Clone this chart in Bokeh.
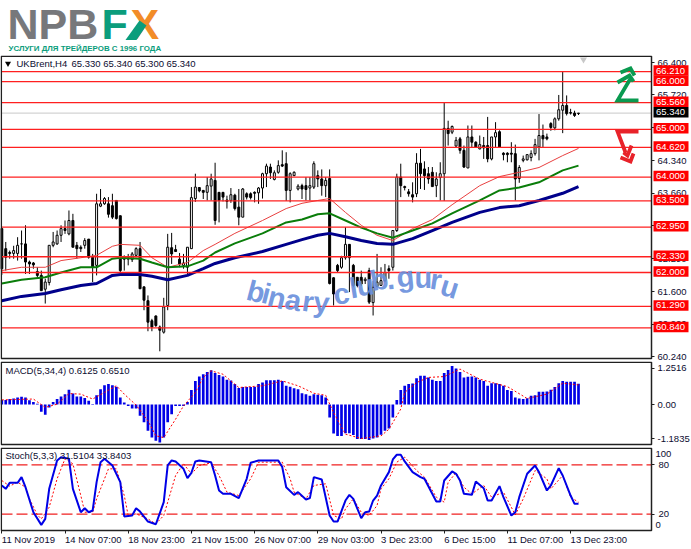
from bokeh.plotting import figure
from bokeh.layouts import column
from bokeh.models import Range1d, LinearAxis, FixedTicker, NumeralTickFormatter
from bokeh.core.properties import value
from bokeh.embed import file_html
from bokeh.resources import INLINE

# ---------- data ----------
SYMBOL = "UKBrent,H4"
QUOTE = "65.330 65.340 65.300 65.340"
OPEN = [62.92,62.50,62.42,62.40,62.40,62.60,62.60,62.22,62.20,62.02,61.94,61.65,61.79,62.57,62.60,62.78,62.92,62.81,63.09,62.57,
        62.53,62.57,62.70,62.32,62.15,63.39,63.44,63.44,63.40,63.51,63.19,62.32,62.28,62.27,62.36,62.50,61.70,61.41,60.99,61.09,
        60.86,60.75,61.31,62.52,62.48,62.28,62.15,62.11,62.50,63.55,63.78,63.72,63.68,63.81,63.93,63.68,63.68,63.52,63.51,63.62,
        63.37,63.16,63.65,63.65,63.68,63.67,63.77,64.07,64.21,63.95,64.10,64.26,64.28,63.72,64.03,63.75,63.82,63.82,63.77,63.79,
        64.03,63.96,63.82,63.97,61.89,62.15,62.11,62.31,62.59,62.15,61.90,61.90,61.83,62.04,61.37,61.71,61.73,61.83,62.08,62.11,
        62.88,64.00,63.80,63.69,63.63,63.65,64.29,64.17,64.07,64.10,63.82,63.99,64.07,65.02,64.94,64.65,64.80,64.56,64.19,64.84,
        64.73,64.59,64.66,64.66,64.38,64.84,64.95,64.50,64.50,64.50,64.49,63.97,64.35,64.36,64.41,64.49,64.63,64.87,64.84,65.12,
        65.03,65.22,65.40,65.50,65.35,65.34,65.33]
HIGH = [62.92,62.64,62.46,62.56,62.74,62.88,62.99,62.25,62.22,62.11,62.04,61.87,62.57,62.85,62.88,62.99,63.09,63.30,63.23,62.64,
        62.57,62.72,62.70,62.39,63.65,63.75,63.58,63.58,63.65,63.51,63.19,62.36,62.39,62.43,62.53,62.64,61.70,61.52,61.03,61.10,
        60.89,61.47,62.81,62.83,62.58,62.41,62.39,62.53,63.79,64.07,63.79,63.73,64.00,64.07,64.30,63.68,63.68,63.61,63.77,63.65,
        63.75,63.77,63.68,63.68,63.70,63.79,64.09,64.28,64.28,64.14,64.35,64.56,64.52,64.10,64.12,63.85,63.86,64.00,64.00,64.33,
        64.14,64.16,64.00,64.16,61.90,62.18,62.35,62.95,62.59,62.18,61.90,62.04,61.90,62.10,61.83,62.39,62.11,62.18,62.15,62.88,
        64.07,64.28,63.82,63.75,63.89,64.50,64.59,64.33,64.21,64.21,64.10,64.31,65.56,65.18,65.08,64.84,64.84,64.66,65.08,65.08,
        64.75,64.87,64.84,65.26,64.84,65.15,64.98,64.52,64.52,64.73,64.68,64.25,64.45,64.48,64.56,64.80,65.32,65.10,64.91,65.15,
        65.25,65.72,66.21,65.71,65.43,65.39,65.34]
LOW = [61.95,62.04,62.29,62.29,62.25,62.29,61.97,61.97,62.08,61.90,61.62,61.35,61.73,62.53,62.58,62.64,62.81,62.78,62.53,62.29,
       62.43,62.50,62.29,61.80,61.94,63.37,63.42,63.15,63.12,63.11,62.01,62.04,62.15,62.22,62.32,61.66,61.21,60.77,60.77,60.86,
       60.35,60.72,61.21,62.18,62.43,62.11,62.08,61.94,62.50,63.48,63.68,63.54,63.51,63.51,63.00,63.05,63.49,63.34,63.46,63.30,
       62.99,63.16,63.53,63.53,63.47,63.44,63.55,63.79,63.96,63.93,64.07,64.21,63.50,63.47,64.02,63.72,63.54,63.51,63.51,63.75,
       63.79,63.61,63.58,61.75,61.31,62.00,62.08,62.27,61.59,61.69,61.69,61.72,61.76,61.34,61.10,61.69,61.73,61.80,61.87,62.04,
       62.85,63.58,63.72,63.59,63.47,63.58,63.75,63.73,63.86,63.80,63.58,63.51,63.50,64.66,64.90,64.63,64.49,64.19,64.19,64.63,
       64.63,64.58,64.38,64.31,64.35,64.63,64.61,64.35,64.31,64.31,63.51,63.88,64.31,64.35,64.33,64.45,64.35,64.63,64.77,64.97,
       64.98,65.18,64.92,65.29,65.31,65.26,65.30]
CLOSE = [62.08,62.32,62.40,62.46,62.57,62.60,62.22,62.18,62.16,61.94,61.62,61.80,62.57,62.64,62.78,62.92,62.88,63.09,62.53,62.50,
         62.50,62.67,62.32,62.11,63.44,63.44,63.55,63.22,63.16,63.13,62.04,62.28,62.31,62.39,62.50,61.66,61.42,60.96,60.86,60.89,
         60.79,61.28,62.53,62.39,62.44,62.18,62.20,62.53,63.57,63.79,63.71,63.68,63.82,63.96,63.09,63.51,63.58,63.49,63.63,63.34,
         63.16,63.75,63.58,63.57,63.66,63.77,64.07,64.23,64.09,64.09,64.24,64.23,63.72,64.07,64.10,63.81,63.75,63.74,63.82,64.28,
         63.96,63.82,63.93,61.77,61.55,62.04,62.31,62.59,62.31,61.73,61.73,61.76,61.86,61.38,61.69,61.80,61.83,62.00,62.04,62.88,
         64.00,63.82,63.78,63.65,63.58,64.29,64.07,64.03,63.96,63.80,63.96,64.07,65.02,64.91,65.06,64.77,64.56,64.21,64.84,64.73,
         64.63,64.68,64.61,64.38,64.84,64.93,64.63,64.47,64.47,64.48,63.96,64.20,64.38,64.47,64.49,64.68,64.87,64.80,64.80,65.04,
         65.22,65.41,65.50,65.33,65.34,65.29,65.34]

MA_BARS = [0,5,11,15,20,24,28,30,35,38,42,47,51,54,59,66,72,76,80,83,87,91,95,99,104,109,114,121,126,131,136,142,146]
MA_BLUE = [61.41,61.50,61.56,61.64,61.73,61.77,61.94,61.96,61.96,61.92,61.85,61.94,62.08,62.19,62.31,62.44,62.59,62.69,62.78,62.82,62.75,62.67,62.61,62.59,62.71,62.88,63.05,63.26,63.36,63.40,63.51,63.66,63.80]
MA_GREEN = [61.77,61.85,61.90,62.00,62.11,62.11,62.29,62.31,62.29,62.21,62.11,62.13,62.25,62.42,62.61,62.82,63.05,63.11,63.22,63.24,63.09,62.94,62.82,62.73,62.88,63.03,63.24,63.51,63.72,63.78,63.89,64.14,64.24]
MA_RED = [62.04,62.11,62.11,62.25,62.31,62.36,62.55,62.59,62.57,62.31,62.11,62.21,62.46,62.59,62.82,63.09,63.34,63.45,63.51,63.55,63.26,62.99,62.78,62.67,62.92,63.11,63.42,63.82,64.01,64.10,64.20,64.45,64.60]

LEVELS = [66.21,66.00,65.56,65.00,64.62,64.00,63.50,62.95,62.33,62.00,61.29,60.84]
LAST_PRICE = 65.34
PRICE_TICKS = [66.40,65.72,65.03,64.34,63.66,62.98,62.29,61.60,60.92,60.24]

MACD_TITLE = "MACD(5,34,4) 0.6125 0.6510"
MACD_TICKS = [1.2516, 0.0, -1.1835]
MACD_HIST = [.16,.16,.19,.21,.24,.27,.24,.15,.09,.03,-.25,-.36,-.10,.09,.19,.28,.36,.51,.38,.28,.28,.23,.13,-.02,.32,.53,.67,.71,.67,.62,
             .24,.07,-.05,-.14,-.14,-.39,-.62,-.91,-1.15,-1.26,-1.32,-1.15,-.62,-.34,-.05,-.05,-.05,.09,.50,.82,.97,1.05,1.13,1.19,1.09,1.02,.97,.86,.83,.71,
             .57,.61,.61,.61,.62,.71,.76,.84,.84,.84,.86,.82,.65,.62,.56,.53,.39,.36,.30,.36,.34,.32,.24,-.45,-1.01,-1.09,-1.09,-1.0,-1.0,-1.06,
             -1.2,-1.2,-1.2,-1.23,-1.18,-1.15,-1.05,-.91,-.83,-.45,.16,.50,.65,.71,.73,.91,1.0,1.0,.94,.86,.82,.82,1.09,1.20,1.34,1.25,1.13,.94,.96,.97,
             .94,.86,.82,.65,.74,.74,.71,.65,.50,.47,.24,.21,.19,.22,.30,.32,.44,.44,.45,.51,.61,.74,.82,.79,.79,.79,.72]
MACD_SIG_BARS = [0,8,11,14,17,20,23,26,29,31,34,37,39,41,44,46,49,51,53,56,60,66,71,75,79,82,84,87,91,96,98,101,102,105,108,112,116,121,128,133,138,142,146]
MACD_SIG = [.16,.19,-.10,.01,.38,.36,.19,.42,.65,.36,-.02,-.57,-1.09,-1.15,-.51,-.05,.42,.94,1.17,1.05,.59,.65,.82,.65,.39,.32,-.28,-1.03,-1.18,-1.09,-.86,-.16,.42,.76,.94,.97,1.23,.88,.62,.21,.36,.74,.68]

STOCH_TITLE = "Stoch(5,3,3) 31.5104 33.8403"
STOCH_BARS = [0,1,2,4,5,6,8,10,11,12,14,15,17,18,20,21,22,23,24,25,26,28,30,31,33,34,35,37,39,41,42,43,44,46,47,48,49,50,53,54,55,56,58,60,62,63,65,70,71,72,74,75,77,78,79,81,83,84,85,87,
              88,89,91,92,93,94,95,96,98,99,100,101,102,104,106,107,110,111,112,114,115,116,117,119,120,122,123,124,126,127,129,130,131,133,135,136,138,139,141,142,144,145,146]
STOCH_MAIN = [54.9,50.8,58.1,58.1,65,52.8,22.4,7,14.3,50.8,85.3,89.3,87.3,50.8,22.4,27.3,22.4,24.5,58.9,83.2,87.3,79.2,58.9,17.2,18.4,27.3,23.2,11.1,7.8,34.6,79.2,85.3,84.1,75.1,63.8,70.3,84.1,85.3,83.2,67,48.8,44.7,44.7,39.5,63,82.4,85.3,85.3,77.2,52.8,43.5,46.8,37.8,39.5,65,62.2,18.4,11.1,11.1,36.6,
              43.5,38.6,15.1,22.4,23.2,36.6,42.7,54.9,71.1,86.5,92.2,92.2,84.1,71.1,65,63,35.4,35.4,60.9,71.9,69.1,60.9,44.7,43.5,59.7,51.6,36.6,36.6,54.1,40.7,18.4,22.4,40.7,69.1,79.2,71.1,48.8,54.9,75.9,67,42.7,32.6,32.6]
STOCH_SIG_BARS = [0,2,4,6,7,9,10,12,14,16,18,20,21,23,24,27,29,31,32,34,37,39,41,44,46,48,50,53,55,57,60,63,65,71,73,74,77,79,82,84,86,87,89,91,93,95,96,98,100,102,105,107,110,112,113,115,117,119,122,124,127,130,132,135,138,139,142,144,146]
STOCH_SIG = [60.9,54.1,58.9,52.8,38.6,19.2,14.3,28.5,63,87.3,81.2,42.7,22.4,22.4,38.6,75.1,75.1,42.7,18.4,20.4,14.3,8.2,18.4,67,81.2,69.1,79.2,82.4,67,46.8,42.7,63,83.2,83.2,63,46.8,38.6,54.9,56.9,18.4,14.3,26.5,38.6,22.4,18.4,30.5,50.8,63,83.2,89.3,73.1,65,40.7,34.6,58.9,70.3,52.8,44.7,54.9,40.7,46.8,19.2,38.6,73.1,63,50.8,67,40.7,34.6]
STOCH_LEVELS = [80, 20]

DATE_BARS = [0,16,32,48,64,80,96,112,128,144]
DATE_LABELS = ["11 Nov 2019","14 Nov 07:00","18 Nov 23:00","21 Nov 15:00","26 Nov 07:00","29 Nov 03:00","3 Dec 23:00","6 Dec 15:00","11 Dec 07:00","13 Dec 23:00"]
WATERMARK = "binaryclub.guru"
LOGO_TAG = "УСЛУГИ ДЛЯ ТРЕЙДЕРОВ С 1996 ГОДА"

# ---------- styling ----------
FONT = value("Liberation Sans")
FS = "9.5px"
INK = "#0c0c30"
EDGE = "#202020"
N = len(CLOSE)
assert N == len(OPEN) == len(HIGH) == len(LOW) == 147
assert len(MACD_HIST) == N and len(STOCH_BARS) == len(STOCH_MAIN) and len(STOCH_SIG_BARS) == len(STOCH_SIG) and len(MACD_SIG_BARS) == len(MACD_SIG)
BARS = list(range(N))
RIGHT_X = 651

def xpx(x):
    return (x - 1.3) / 3.95
def ypx(y):   # main panel: picture pixel -> price
    return 66.4 - (y - 62) * 0.02095
def mpy(y):   # MACD panel
    return (404 - y) / 28.8
def spy(y):   # stochastic panel
    return 80 - (y - 464.3) / 0.8233

def panel(top_px, bottom_px, fn, ticks, box_top, box_bottom):
    h = bottom_px - top_px
    p = figure(width=691, height=h, frame_width=691, frame_height=h, output_backend="svg", toolbar_location=None,
               x_range=Range1d(xpx(0), xpx(691)), y_range=Range1d(fn(bottom_px), fn(top_px)),
               x_axis_location=None, y_axis_location=None, min_border=0,
               background_fill_color="white", border_fill_color="white", outline_line_color=None)
    p.grid.visible = False
    a = LinearAxis(fixed_location=xpx(RIGHT_X), ticker=FixedTicker(ticks=ticks), bounds=(fn(box_bottom), fn(box_top)),
                   major_tick_in=0, major_tick_out=3, minor_tick_line_color=None,
                   axis_line_color=EDGE, major_tick_line_color=EDGE, major_label_text_font="Liberation Sans",
                   major_label_text_font_size=FS, major_label_text_color=INK, major_label_standoff=3)
    p.add_layout(a, "right")
    return p, a

def box(p, fn, top, bottom):
    p.quad(left=[xpx(0.8)], right=[xpx(RIGHT_X)], top=[fn(top)], bottom=[fn(bottom)], fill_color=None, line_color=EDGE, line_width=1.5)

def txt(p, x, y, s, color=INK, size=FS, style="normal", font=FONT, align="left", baseline="middle", level="glyph"):
    p.text(x=[x], y=[y], text=[s], text_font=font, text_font_size=size, text_font_style=style, text_color=color, text_align=align, text_baseline=baseline, level=level)

# ---------- logo ----------
logo = figure(width=691, height=55, frame_width=691, frame_height=55, output_backend="svg", toolbar_location=None, x_range=Range1d(0, 691), y_range=Range1d(55, 0),
              x_axis_location=None, y_axis_location=None, min_border=0, outline_line_color=None, border_fill_color="white")
logo.grid.visible = False
txt(logo, 7, 23.5, "NPB", "#77787b", "43px", "bold")
txt(logo, 130, 23.5, "X", "#f28c28", "43px", "bold")
txt(logo, 101, 23.5, "F", "#0b9d7c", "43px", "bold")
logo.patch(x=[125, 136, 146, 139], y=[39.5, 39.5, 25, 20], fill_color="#0b9d7c", line_color=None)
txt(logo, 8, 47.5, LOGO_TAG, "#0b9d7c", "7.9px", "bold")

# ---------- main panel ----------
p, pa = panel(55, 361, ypx, PRICE_TICKS, 55.7, 358)
pa.formatter = NumeralTickFormatter(format="0.000")
p.segment([xpx(1)], [LAST_PRICE], [xpx(RIGHT_X)], [LAST_PRICE], line_color="#c8c8c8", line_width=1)
p.segment(BARS, HIGH, BARS, LOW, line_color="black", line_width=1)
up = [i for i in BARS if CLOSE[i] >= OPEN[i]]
dn = [i for i in BARS if CLOSE[i] < OPEN[i]]
p.vbar(x=up, bottom=[OPEN[i] for i in up], top=[CLOSE[i] for i in up], width=0.5, fill_color="white", line_color="black", line_width=1)
p.vbar(x=dn, bottom=[CLOSE[i] for i in dn], top=[OPEN[i] for i in dn], width=0.5, fill_color="black", line_color="black", line_width=1)
p.line(MA_BARS, MA_RED, line_color="#e84040", line_width=1)
p.line(MA_BARS, MA_GREEN, line_color="#0a7d0a", line_width=2)
p.line(MA_BARS, MA_BLUE, line_color="#00008b", line_width=3)
p.segment([xpx(1)] * len(LEVELS), LEVELS, [xpx(RIGHT_X)] * len(LEVELS), LEVELS, line_color="#ff2020", line_width=1.3)
box(p, ypx, 55.7, 358)

def arrow(pts, color):
    p.line([xpx(a) for a, b in pts], [ypx(b) for a, b in pts], line_color=color, line_width=3.8, line_join="miter")
GREEN_A = "#0a9a50"
RED_A = "#e8222a"
arrow([(638, 100), (617, 100), (630, 78)], GREEN_A)
arrow([(617, 82), (629, 75), (633, 81)], GREEN_A)
arrow([(620, 72), (630, 68), (634, 75)], GREEN_A)
arrow([(638, 131), (617, 131), (625, 152)], RED_A)
arrow([(620, 157), (630, 161), (633, 153)], RED_A)
arrow([(623, 152), (627, 155), (631, 145)], RED_A)
p.scatter([xpx(583)], [ypx(59)], marker="inverted_triangle", size=7, fill_color="#c8c8c8", line_color=None)
p.scatter([xpx(7.5)], [ypx(63)], marker="inverted_triangle", size=6, fill_color="black", line_color=None)

# watermark, letter by letter along its wavy path
WM_X = [247,262,268,285,302,313,333,349,356,370,386,396,414,430,441]
WM_Y = [289,292,295,298,300,301,294,288,286,281,279,277,277,278,284]
WM_A = [-0.25,-0.25,-0.25,-0.2,-0.15,-0.1,0.1,0.15,0.15,0.2,0.1,0.1,0.0,-0.15,-0.3]
p.text(x=[xpx(v) for v in WM_X], y=[ypx(v) for v in WM_Y], text=list(WATERMARK), angle=WM_A,
       text_font=value("Liberation Sans"), text_font_style="bold", text_font_size="29px", text_color="#6a8fdc", text_alpha=0.92, text_baseline="alphabetic")

txt(p, xpx(16), ypx(63), SYMBOL)
txt(p, xpx(71), ypx(63), QUOTE)
LX0, LX1 = xpx(653), xpx(688)
for lv, bg in [(l, "#ff0000") for l in LEVELS] + [(LAST_PRICE, "#000000")]:
    p.quad(left=[LX0], right=[LX1], top=[lv + 0.13], bottom=[lv - 0.09], fill_color=bg, line_color=None, level="overlay")
    txt(p, xpx(655.5), lv + 0.02, f"{lv:.3f}", "white", level="overlay")

# ---------- MACD ----------
m, ma = panel(361, 447, mpy, MACD_TICKS, 361.7, 444)
ma.major_label_overrides = {1.2516: "1.2516", 0.0: "0.00", -1.1835: "-1.1835"}
m.vbar(x=BARS, top=[max(v, 0) for v in MACD_HIST], bottom=[min(v, 0) for v in MACD_HIST], width=0.68, fill_color="#0000e6", line_color=None)
m.line(MACD_SIG_BARS, MACD_SIG, line_color="#ff0000", line_width=1, line_dash="2 2")
box(m, mpy, 361.7, 444)
txt(m, xpx(5), mpy(369.5), MACD_TITLE)

# ---------- Stochastic ----------
s, sa = panel(447, 549, spy, STOCH_LEVELS, 447.7, 530)
sa.major_label_standoff = 4
s.segment([xpx(1)] * 2, STOCH_LEVELS, [xpx(RIGHT_X)] * 2, STOCH_LEVELS, line_color="#f02020", line_width=1.3, line_dash="11 4")
s.line(STOCH_SIG_BARS, STOCH_SIG, line_color="#ff0000", line_width=1, line_dash="2 2")
s.line(STOCH_BARS, STOCH_MAIN, line_color="#0000e6", line_width=2)
box(s, spy, 447.7, 530)
txt(s, xpx(5), spy(455), STOCH_TITLE)
txt(s, xpx(655), spy(453.7), "100")
txt(s, xpx(655), spy(524), "0")
xa = LinearAxis(fixed_location=spy(530), ticker=FixedTicker(ticks=DATE_BARS), bounds=(xpx(1), xpx(RIGHT_X)),
                major_label_overrides={b: "" for b in DATE_BARS}, major_tick_in=0, major_tick_out=3,
                minor_tick_line_color=None, axis_line_color=EDGE, major_tick_line_color=EDGE)
s.add_layout(xa, "below")
for b, t in zip(DATE_BARS, DATE_LABELS):
    txt(s, b, spy(539), t)

root = column(logo, p, m, s, spacing=0)
open("out.html", "w").write(file_html(root, INLINE))
